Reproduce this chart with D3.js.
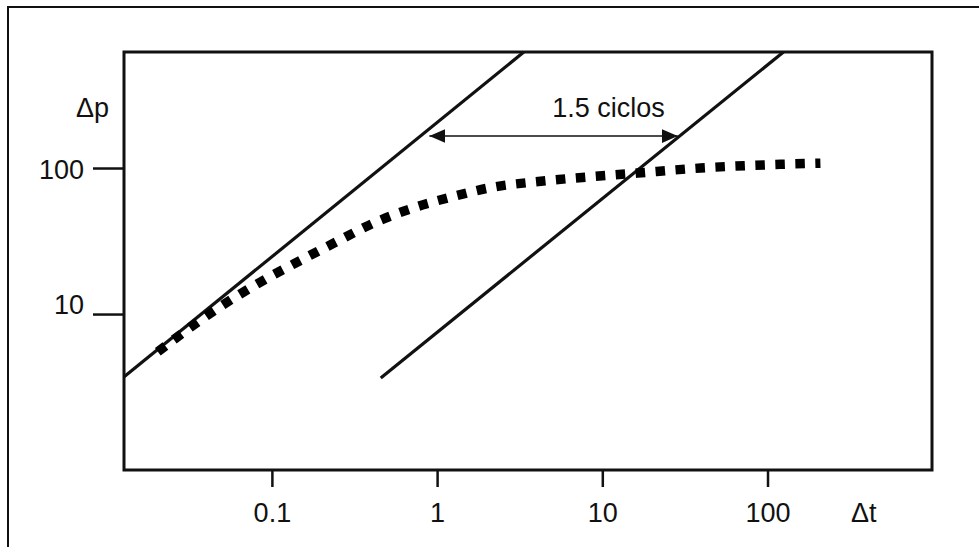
<!DOCTYPE html>
<html>
<head>
<meta charset="utf-8">
<script src="https://cdn.jsdelivr.net/npm/d3@7"></script>
<style>
  body { margin: 0; background: #fff; }
  svg text { font-family: "Liberation Sans", Arial, Helvetica, sans-serif; fill: #111; }
</style>
</head>
<body>
<svg id="chart" width="979" height="547"></svg>
<script>
"use strict";

// tick values / labels
var xTicks = [0.1, 1, 10, 100];
var xTickLabels = ["0.1", "1", "10", "100"];
var yTicks = [10, 100];
var yTickLabels = ["10", "100"];

// unit-slope reference lines [dt, dp]
var lineEarly = [[0.0127, 3.70], [3.35, 623]];
var lineLate = [[0.456, 3.65], [125, 623]];

// pressure change curve (dotted)
var curveT = [0.0204, 0.0428, 0.0895, 0.150, 0.244, 0.414, 0.713, 1.21, 2.20, 3.85, 5.08, 16.4, 39.4, 120, 209];
var curveP = [5.52, 10.2, 17.1, 23.4, 31.1, 42.0, 53.2, 63.2, 74.1, 80.2, 82.8, 92.4, 100, 106, 108];

// "1.5 ciclos" annotation
var arrowT = [0.898, 28.6];
var arrowP = 165.6;
var arrowLabel = "1.5 ciclos";
var arrowLabelAt = [10.9, 223];

var svg = d3.select("#chart");
var margin = {left: 124, top: 52, right: 47, bottom: 77};
var W = 979, H = 547;
var fontSize = "27px";

var x = d3.scaleLog().domain([0.01273, 990]).range([margin.left, W - margin.right]);
var y = d3.scaleLog().domain([0.855, 623]).range([H - margin.bottom, margin.top]);

// outer frame (top and left edges only show in the picture)
svg.append("rect")
  .attr("x", 8).attr("y", 7)
  .attr("width", W + 20).attr("height", H + 20)
  .style("fill", "none").style("stroke", "#111").style("stroke-width", 2);

var defs = svg.append("defs");
["start", "end"].forEach(function(k) {
  defs.append("marker")
    .attr("id", "arrow-" + k)
    .attr("markerUnits", "userSpaceOnUse")
    .attr("viewBox", "0 -8 16 16")
    .attr("refX", 16).attr("refY", 0)
    .attr("markerWidth", 16).attr("markerHeight", 16)
    .attr("orient", k == "start" ? "auto-start-reverse" : "auto")
    .append("path")
    .attr("d", "M0,-7L16,0L0,7Z")
    .style("fill", "#111");
});

// axes
var xAxis = svg.append("g")
  .attr("transform", "translate(0," + (H - margin.bottom) + ")")
  .call(d3.axisBottom(x).tickValues(xTicks)
    .tickFormat(function(d, i) { return xTickLabels[i]; })
    .tickSize(17).tickPadding(16));
var yAxis = svg.append("g")
  .attr("transform", "translate(" + margin.left + ",0)")
  .call(d3.axisLeft(y).tickValues(yTicks)
    .tickFormat(function(d, i) { return yTickLabels[i]; })
    .tickSize(31).tickPadding(9));

[xAxis, yAxis].forEach(function(g) {
  g.select(".domain").remove();
  g.selectAll(".tick line").style("stroke", "#111").style("stroke-width", 2.5);
  g.selectAll(".tick text").style("font-size", fontSize).style("fill", "#111");
});
xAxis.selectAll(".tick text").attr("dy", "0.71em");
// "10" sits on its tick line, "100" is centred on it
yAxis.selectAll(".tick text").attr("dy", function(d) { return d == 10 ? "-0.02em" : "0.38em"; });

// plot box
svg.append("rect")
  .attr("x", margin.left).attr("y", margin.top)
  .attr("width", W - margin.left - margin.right)
  .attr("height", H - margin.top - margin.bottom)
  .style("fill", "none").style("stroke", "#111").style("stroke-width", 3);

// axis titles
svg.append("text")
  .attr("x", margin.left - 15).attr("y", margin.top + 65)
  .attr("text-anchor", "end")
  .style("font-size", fontSize)
  .text("Δp");
svg.append("text")
  .attr("x", x(320)).attr("y", H - margin.bottom + 52)
  .style("font-size", fontSize)
  .text("Δt");

var line = d3.line()
  .x(function(d) { return x(d[0]); })
  .y(function(d) { return y(d[1]); });

svg.selectAll(".ref-line")
  .data([lineEarly, lineLate])
  .enter().append("path")
  .attr("class", "ref-line")
  .attr("d", line)
  .style("fill", "none").style("stroke", "#111").style("stroke-width", 3.2);

var curve = d3.zip(curveT, curveP);
svg.append("path")
  .datum(curve)
  .attr("d", line.curve(d3.curveMonotoneX))
  .style("fill", "none").style("stroke", "#000")
  .style("stroke-width", 9.5)
  .style("stroke-dasharray", "9.5,10.5");

// 1.5 cycles arrow
svg.append("line")
  .attr("x1", x(arrowT[0])).attr("x2", x(arrowT[1]))
  .attr("y1", y(arrowP)).attr("y2", y(arrowP))
  .attr("marker-start", "url(#arrow-start)")
  .attr("marker-end", "url(#arrow-end)")
  .style("stroke", "#111").style("stroke-width", 1.5);

svg.append("text")
  .attr("x", x(arrowLabelAt[0])).attr("y", y(arrowLabelAt[1]))
  .attr("text-anchor", "middle")
  .style("font-size", fontSize)
  .text(arrowLabel);
</script>
</body>
</html>
